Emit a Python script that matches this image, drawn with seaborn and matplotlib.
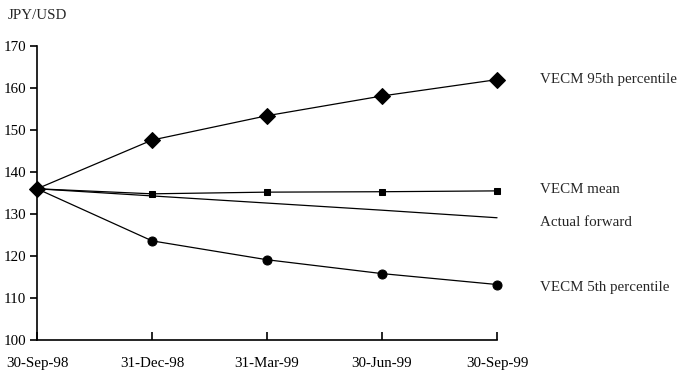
import numpy as np
import pandas as pd
import seaborn as sns
import matplotlib
matplotlib.use('Agg')
import matplotlib.pyplot as plt
import matplotlib.transforms as mtransforms

# %%
dates = ['30-Sep-98', '31-Dec-98', '31-Mar-99', '30-Jun-99', '30-Sep-99']
vecm_95 = [136.0, 147.6, 153.4, 158.1, 162.0]
vecm_mean = [136.0, 134.8, 135.2, 135.3, 135.5]
actual_fwd = [136.0, 134.3, 132.6, 130.9, 129.1]
vecm_5 = [136.0, 123.6, 119.1, 115.8, 113.2]

series_names = ['VECM 95th percentile', 'VECM mean', 'Actual forward', 'VECM 5th percentile']
label_y = [162.0, 135.8, 128.0, 112.6]

# %%
sns.set_style('white')
plt.rcParams['font.family'] = ['Liberation Serif', 'DejaVu Serif']

df = pd.DataFrame({
    'pos': np.arange(len(dates)),
    'VECM 95th percentile': vecm_95,
    'VECM mean': vecm_mean,
    'Actual forward': actual_fwd,
    'VECM 5th percentile': vecm_5,
})

fig = plt.figure(figsize=(6.77, 3.85), dpi=100)
ax = fig.add_axes([0.0547, 0.117, 0.6795, 0.7635])

styles = {
    'VECM 95th percentile': dict(marker='D', markersize=8.5),
    'VECM mean': dict(marker='s', markersize=5),
    'Actual forward': dict(marker=None),
    'VECM 5th percentile': dict(marker='o', markersize=6.5),
}

for name in series_names:
    sns.lineplot(data=df, x='pos', y=name, ax=ax, color='black', linewidth=0.9,
                 markeredgecolor='black', markerfacecolor='black', **styles[name])

# markers at the axis edges should not be cut
for line in ax.get_lines():
    line.set_clip_on(False)
    line.set_zorder(5)

ax.set_xlim(0, len(dates) - 1)
ax.set_ylim(100, 170)
ax.set_yticks(range(100, 171, 10))
ax.set_xticks(range(len(dates)))
ax.set_xticklabels(dates)
ax.set_xlabel('')
ax.set_ylabel('')

for side in ['top', 'right']:
    ax.spines[side].set_visible(False)
for side in ['left', 'bottom']:
    ax.spines[side].set_color('black')
    ax.spines[side].set_linewidth(1.2)

ax.tick_params(axis='y', direction='out', length=5, width=1.2, colors='black',
               labelsize=10.8, pad=3, left=True)
ax.tick_params(axis='x', direction='in', length=6, width=1.2, colors='black',
               labelsize=10.8, pad=12, bottom=True)

trans = mtransforms.blended_transform_factory(ax.transAxes, ax.transData)
for name, yv in zip(series_names, label_y):
    ax.text(1.093, yv, name, transform=trans, fontsize=10.8, va='center', ha='left')

fig.text(0.012, 0.96, 'JPY/USD', fontsize=10.8, va='center', ha='left')

fig.savefig('out.png', dpi=100)
